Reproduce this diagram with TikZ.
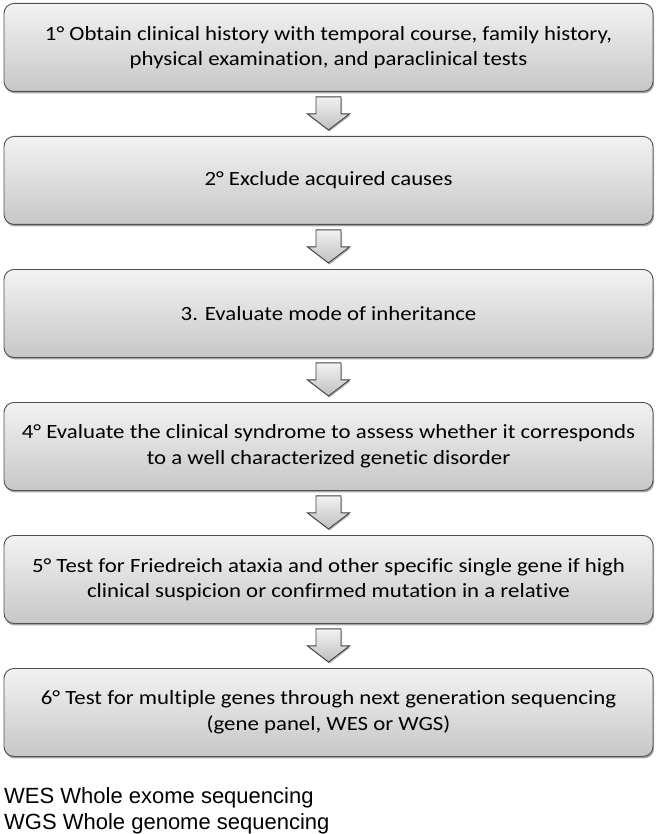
\documentclass[tikz,border=0pt]{standalone}
\usepackage{fontspec}
\setmainfont[FakeStretch=1.13,Ligatures=NoCommon]{Carlito}
\newfontfamily\legendfont{Liberation Sans}
\usetikzlibrary{calc,shadows}
\definecolor{boxline}{HTML}{505050}
\definecolor{arrowline}{HTML}{404040}
\tikzset{
  stepbox/.style={draw=boxline, line width=0.9pt, rounded corners=10pt,
    top color=black!5, bottom color=black!22,
    drop shadow={shadow xshift=1pt, shadow yshift=-2pt, opacity=0.35, fill=black},
    minimum width=649pt, minimum height=88pt, anchor=north, align=center,
    font=\fontsize{20.2}{25.5}\selectfont, inner sep=0pt},
  blockarrow/.style={draw=arrowline, line width=0.9pt, top color=black!5, bottom color=black!25,
    drop shadow={shadow xshift=1pt, shadow yshift=-1.5pt, opacity=0.3, fill=black}},
  legend/.style={anchor=base west, font=\legendfont\fontsize{22}{26}\selectfont, inner sep=0pt}
}
\newcommand{\downarrowbetween}[2]{%
  \path[blockarrow] ($(#1.south)+(-12.5pt,-5pt)$) -- ($(#1.south)+(12.5pt,-5pt)$)
    -- ($(#1.south)+(12.5pt,-22pt)$) -- ($(#1.south)+(21pt,-22pt)$)
    -- ($(#2.north)+(0pt,6pt)$)
    -- ($(#1.south)+(-21pt,-22pt)$) -- ($(#1.south)+(-12.5pt,-22pt)$) -- cycle;}
\begin{document}
\begin{tikzpicture}[x=1pt,y=-1pt]
\useasboundingbox (0,0) rectangle (657,834);
\node[stepbox] (b1) at (328.5,3) {1° Obtain clinical history with temporal course, family history,\\ physical examination, and paraclinical tests};
\node[stepbox] (b2) at (328.5,136) {2° Exclude acquired causes};
\node[stepbox] (b3) at (328.5,269) {3. Evaluate mode of inheritance};
\node[stepbox] (b4) at (328.5,402) {4° Evaluate the clinical syndrome to assess whether it corresponds\\ to a well characterized genetic disorder};
\node[stepbox] (b5) at (328.5,535) {5° Test for Friedreich ataxia and other specific single gene if high\\ clinical suspicion or confirmed mutation in a relative};
\node[stepbox] (b6) at (328.5,668) {6° Test for multiple genes through next generation sequencing\\ (gene panel, WES or WGS)};
\downarrowbetween{b1}{b2}
\downarrowbetween{b2}{b3}
\downarrowbetween{b3}{b4}
\downarrowbetween{b4}{b5}
\downarrowbetween{b5}{b6}
\node[legend] (l1) at (4,803) {WES Whole exome sequencing};
\node[legend] (l2) at (4,829) {WGS Whole genome sequencing};
\end{tikzpicture}
\end{document}
